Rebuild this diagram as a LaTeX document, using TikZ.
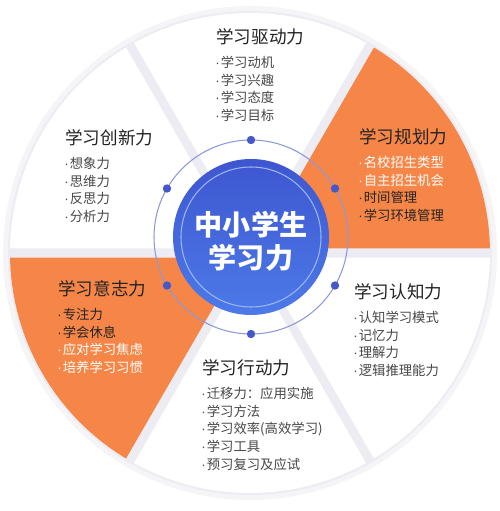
\documentclass[tikz,border=0pt]{standalone}
\usepackage{fontspec}
\usepackage{xcolor}
\usetikzlibrary{calc,positioning}
\newfontfamily\cjk{Noto Sans CJK SC}
\newfontfamily\dotfont{Liberation Sans}
\newcommand\pt{{\dotfont\kern-0.5pt·\kern0.5pt}}
\definecolor{pptorange}{RGB}{246,134,72}
\definecolor{pptblue}{RGB}{62,86,208}
\definecolor{pptbluelow}{RGB}{76,122,232}
\definecolor{pptring}{RGB}{140,152,218}
\definecolor{pptdot}{RGB}{70,88,200}
\definecolor{pptgap}{RGB}{236,236,242}
\definecolor{pptshade}{RGB}{245,245,248}
\definecolor{ppttext}{RGB}{35,35,35}
\definecolor{pptitem}{RGB}{72,72,72}
\tikzset{
  headnode/.style={font=\cjk\fontsize{10}{12}\selectfont,text=ppttext,inner sep=0pt,anchor=west},
  listnode/.style={font=\cjk\fontsize{7.6}{10}\selectfont,text=pptitem,inner sep=0pt,align=left},
}

\begin{document}
\begin{tikzpicture}[x=0.02cm,y=0.02cm]
  \useasboundingbox (0,0) rectangle (500,511);
  \coordinate (H) at (250,258);
  \coordinate (C) at (251,274);
  % backdrop and gaps
  \fill[pptshade] (H) circle (247);
  \fill[pptgap] (H) circle (242);
  % six sectors
  \fill[pptorange] ($(H)+(30:9)$) -- ($(H)+(1.1:240)$) arc[start angle=1.1,end angle=58.9,radius=240] -- cycle;
  \fill[white] ($(H)+(90:9)$) -- ($(H)+(61.1:240)$) arc[start angle=61.1,end angle=118.9,radius=240] -- cycle;
  \fill[white] ($(H)+(150:9)$) -- ($(H)+(121.1:240)$) arc[start angle=121.1,end angle=178.9,radius=240] -- cycle;
  \fill[pptorange] ($(H)+(210:9)$) -- ($(H)+(181.1:240)$) arc[start angle=181.1,end angle=238.9,radius=240] -- cycle;
  \fill[white] ($(H)+(270:9)$) -- ($(H)+(241.1:240)$) arc[start angle=241.1,end angle=298.9,radius=240] -- cycle;
  \fill[white] ($(H)+(330:9)$) -- ($(H)+(301.1:240)$) arc[start angle=301.1,end angle=358.9,radius=240] -- cycle;
  % ring with dots
  \draw[pptring,line width=0.6pt] (C) circle (97);
  \fill[pptdot] ($(C)+(30:97)$) circle (4.2) ($(C)+(90:97)$) circle (4.2)
    ($(C)+(150:97)$) circle (4.2) ($(C)+(210:97)$) circle (4.2)
    ($(C)+(270:97)$) circle (4.2) ($(C)+(330:97)$) circle (4.2);
  % centre disc
  \shade[top color=pptblue,bottom color=pptbluelow] (C) circle (78);
  \draw[white!45!pptbluelow,line width=0.6pt] (C) circle (70);
  \node[text=white,font=\cjk\bfseries\fontsize{16}{19}\selectfont,align=center] (core) at ($(C)+(0,-4)$) {中小学生\\学习力};
  % blocks
  \node[headnode] (drive) at (216,474) {学习驱动力};
  \node[listnode,below=6pt of drive.south west,anchor=north west] (drivelist)
    {\pt 学习动机\\\pt 学习兴趣\\\pt 学习态度\\\pt 学习目标};
  \node[headnode] (plan) at (359,374) {学习规划力};
  \node[listnode,below=6pt of plan.south west,anchor=north west] (planlist)
    {\textcolor{white}{\pt 名校招生类型}\\\textcolor{white}{\pt 自主招生机会}\\\textcolor{ppttext}{\pt 时间管理}\\\textcolor{ppttext}{\pt 学习环境管理}};
  \node[headnode] (create) at (65,373) {学习创新力};
  \node[listnode,below=6pt of create.south west,anchor=north west] (createlist)
    {\pt 想象力\\\pt 思维力\\\pt 反思力\\\pt 分析力};
  \node[headnode] (will) at (58,222) {学习意志力};
  \node[listnode,below=6pt of will.south west,anchor=north west] (willlist)
    {\textcolor{ppttext}{\pt 专注力}\\\textcolor{ppttext}{\pt 学会休息}\\\textcolor{white}{\pt 应对学习焦虑}\\\textcolor{white}{\pt 培养学习习惯}};
  \node[headnode] (cognize) at (354,219) {学习认知力};
  \node[listnode,below=6pt of cognize.south west,anchor=north west] (cognizelist)
    {\pt 认知学习模式\\\pt 记忆力\\\pt 理解力\\\pt 逻辑推理能力};
  \node[headnode] (act) at (202,143) {学习行动力};
  \node[listnode,below=6pt of act.south west,anchor=north west] (actlist)
    {\pt 迁移力：应用实施\\\pt 学习方法\\\pt 学习效率(高效学习)\\\pt 学习工具\\\pt 预习复习及应试};
\end{tikzpicture}
\end{document}
